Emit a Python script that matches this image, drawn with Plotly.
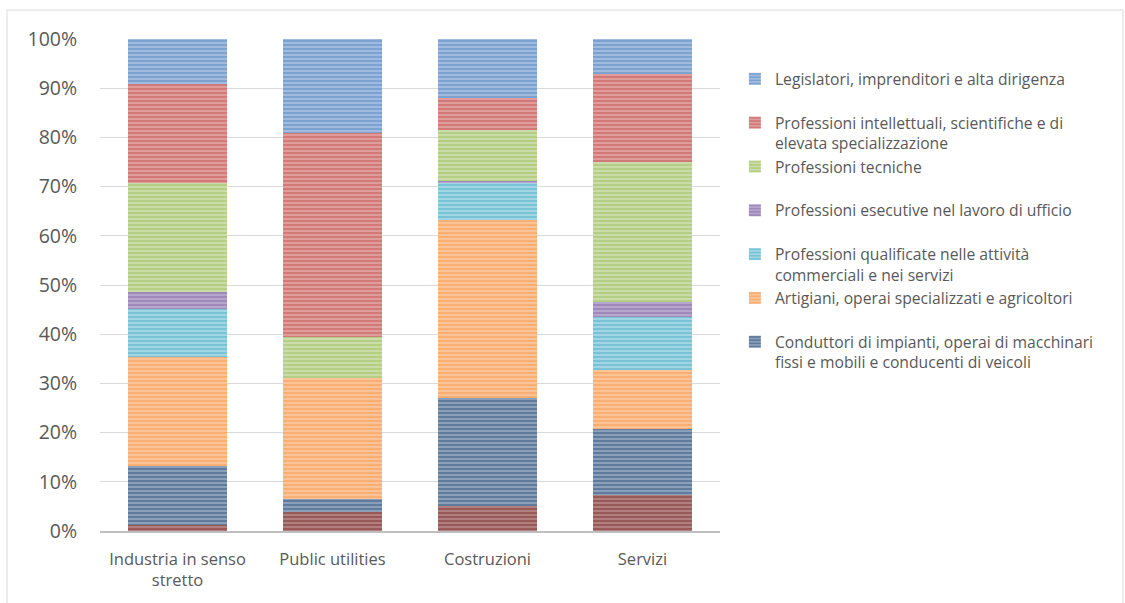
import plotly.graph_objects as go

categories = ["Industria in senso<br>stretto", "Public utilities", "Costruzioni", "Servizi"]

# series from bottom of stack to top
series_names = [
    "Professioni non qualificate",
    "Conduttori di impianti, operai di macchinari<br>fissi e mobili e conducenti di veicoli",
    "Artigiani, operai specializzati e agricoltori",
    "Professioni qualificate nelle attività<br>commerciali e nei servizi",
    "Professioni esecutive nel lavoro di ufficio",
    "Professioni tecniche",
    "Professioni intellettuali, scientifiche e di<br>elevata specializzazione",
    "Legislatori, imprenditori e alta dirigenza",
]

non_qualificate = [1.2, 3.8, 5.1, 7.3]
conduttori = [12.0, 2.8, 21.9, 13.4]
artigiani = [22.2, 24.6, 36.2, 12.0]
qualificate = [9.7, 0.0, 7.7, 10.7]
esecutive = [3.5, 0.0, 0.3, 3.2]
tecniche = [22.1, 8.3, 10.3, 28.5]
intellettuali = [20.2, 41.3, 6.5, 17.8]
legislatori = [9.1, 19.2, 12.3, 7.1]

series_values = [non_qualificate, conduttori, artigiani, qualificate,
                 esecutive, tecniche, intellettuali, legislatori]

fg_colors = ["#772C2A", "#2C4D75", "#F79646", "#4BACC6", "#8064A2", "#9BBB59", "#C0504D", "#4F81BD"]
bg_colors = ["#B88886", "#94A8C2", "#FBC9A0", "#A9D9E6", "#BCAED2", "#CFE0B0", "#E2A5A3", "#A9C2E2"]
show_legend = [False, True, True, True, True, True, True, True]

fig = go.Figure()
n = len(series_names)
for i, (name, vals, fg, bg, sl) in enumerate(zip(series_names, series_values, fg_colors, bg_colors, show_legend)):
    label = name if "<br>" in name else name + "<br> "
    fig.add_trace(go.Bar(
        x=categories, y=vals, name=label, showlegend=sl, legendgroup=name,
        legendrank=n - i,
        marker=dict(color=bg, line=dict(width=0),
                    pattern=dict(shape="-", fgcolor=fg, bgcolor=bg, size=4, solidity=0.6, fillmode="overlay")),
    ))

fig.update_layout(
    width=1125, height=603,
    barmode="stack", bargap=0.355,
    plot_bgcolor="white", paper_bgcolor="white",
    margin=dict(l=100, r=405, t=39, b=72),
    font=dict(family="Open Sans", size=16, color="#595959"),
    legend=dict(x=1.024, y=0.953, xanchor="left", yanchor="top", valign="top",
                traceorder="grouped", tracegroupgap=0,
                font=dict(size=15.7, color="#595959"), itemwidth=30),
    xaxis=dict(showline=True, linecolor="#BFBFBF", linewidth=2, tickfont=dict(size=16.5),
               ticks="outside", ticklen=12, tickcolor="rgba(0,0,0,0)", range=[-0.5, 3.5]),
    yaxis=dict(range=[0, 100], dtick=10, ticksuffix="%", gridcolor="#D9D9D9", gridwidth=1,
               tickfont=dict(size=19.5), ticks="outside", ticklen=18, tickcolor="rgba(0,0,0,0)",
               zeroline=False),
    shapes=[dict(type="rect", xref="paper", yref="paper", x0=-0.15, x1=1.65, y0=-0.2, y1=(531 - 10) / 492,
                 line=dict(color="#D9D9D9", width=1), fillcolor="rgba(0,0,0,0)", layer="below")],
)

fig.write_html("out.html")
